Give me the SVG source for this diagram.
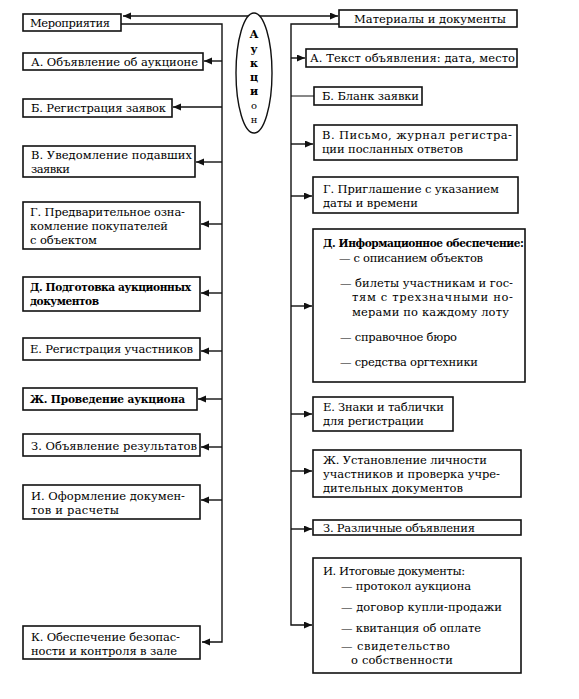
<svg xmlns="http://www.w3.org/2000/svg" width="579" height="699" viewBox="0 0 579 699">
<style>
.box{fill:#fff;stroke:#111;stroke-width:1.6}
.t{font-family:'DejaVu Serif','Liberation Serif',serif;font-size:11.5px;fill:#000}
.b{font-weight:bold;font-size:10.6px}
.c{fill:none;stroke:#111;stroke-width:1.4}
.v{font-family:'DejaVu Serif','Liberation Serif',serif;font-size:11px;fill:#000;text-anchor:middle}
</style>
<defs>
<marker id="ar" markerUnits="userSpaceOnUse" markerWidth="9" markerHeight="8" refX="8" refY="3.5" orient="auto-start-reverse">
<path d="M0,0 L8,3.5 L0,7 z" fill="#111"/>
</marker>
</defs>
<rect width="579" height="699" fill="#fff"/>

<g id="connectors">
<path class="c" d="M123,16 H338" marker-start="url(#ar)" marker-end="url(#ar)"/>
<path class="c" d="M121,24 H222 V642 H202" marker-end="url(#ar)"/>
<path class="c" d="M222,61 H204" marker-end="url(#ar)"/>
<path class="c" d="M222,107 H173" marker-end="url(#ar)"/>
<path class="c" d="M222,162 H196" marker-end="url(#ar)"/>
<path class="c" d="M222,224 H201" marker-end="url(#ar)"/>
<path class="c" d="M222,293 H201" marker-end="url(#ar)"/>
<path class="c" d="M222,351 H201" marker-end="url(#ar)"/>
<path class="c" d="M222,399 H198" marker-end="url(#ar)"/>
<path class="c" d="M222,447 H201" marker-end="url(#ar)"/>
<path class="c" d="M222,500 H201" marker-end="url(#ar)"/>
<path class="c" d="M339,24 H291 V625 H312" marker-end="url(#ar)"/>
<path class="c" d="M291,58 H305" marker-end="url(#ar)"/>
<path class="c" d="M291,96 H314" style="stroke-width:1"/>
<path class="c" d="M291,144 H313" marker-end="url(#ar)"/>
<path class="c" d="M291,196 H312" marker-end="url(#ar)"/>
<path class="c" d="M291,306 H312" marker-end="url(#ar)"/>
<path class="c" d="M291,414 H312" marker-end="url(#ar)"/>
<path class="c" d="M291,471 H312" marker-end="url(#ar)"/>
<path class="c" d="M291,529 H312" marker-end="url(#ar)"/>
</g>

<g id="auction">
<ellipse cx="254" cy="73" rx="18" ry="60" fill="#fff" stroke="#111" stroke-width="1.4"/>
<text class="v" x="254" y="38" font-weight="bold">А</text>
<text class="v" x="254" y="53" font-weight="bold">у</text>
<text class="v" x="254" y="67" font-weight="bold">к</text>
<text class="v" x="254" y="81" font-weight="bold">ц</text>
<text class="v" x="254" y="95" font-weight="bold">и</text>
<text class="v" x="254" y="109" style="font-size:10px">о</text>
<text class="v" x="254" y="123" style="font-size:10px">н</text>
</g>

<g id="events">
<rect class="box" x="23" y="14" width="98" height="17"/>
<text class="t" x="30" y="27" textLength="80">Мероприятия</text>
</g>
<g id="L-A">
<rect class="box" x="23" y="53" width="180" height="17"/>
<text class="t" x="31" y="66" textLength="167">А. Объявление об аукционе</text>
</g>
<g id="L-B">
<rect class="box" x="23" y="99" width="149" height="18"/>
<text class="t" x="31" y="112" textLength="135">Б. Регистрация заявок</text>
</g>
<g id="L-V">
<rect class="box" x="23" y="146" width="172" height="31"/>
<text class="t" x="31" y="159" textLength="161">В. Уведомление подавших</text>
<text class="t" x="31" y="173" textLength="39">заявки</text>
</g>
<g id="L-G">
<rect class="box" x="23" y="202" width="177" height="47"/>
<text class="t" x="30" y="216" textLength="155">Г. Предварительное озна-</text>
<text class="t" x="30" y="230" textLength="138">комление покупателей</text>
<text class="t" x="30" y="244" textLength="67">с объектом</text>
</g>
<g id="L-D">
<rect class="box" x="23" y="277" width="177" height="34"/>
<text class="t b" x="30" y="291" textLength="161">Д. Подготовка аукционных</text>
<text class="t b" x="30" y="305" textLength="69">документов</text>
</g>
<g id="L-E">
<rect class="box" x="23" y="338" width="177" height="22"/>
<text class="t" x="30" y="353" textLength="163">Е. Регистрация участников</text>
</g>
<g id="L-ZH">
<rect class="box" x="23" y="388" width="174" height="22"/>
<text class="t b" x="30" y="403" textLength="155">Ж. Проведение аукциона</text>
</g>
<g id="L-Z">
<rect class="box" x="23" y="434" width="177" height="22"/>
<text class="t" x="31" y="450" textLength="166">З. Объявление результатов</text>
</g>
<g id="L-I">
<rect class="box" x="23" y="485" width="177" height="34"/>
<text class="t" x="31" y="500" textLength="154">И. Оформление докумен-</text>
<text class="t" x="31" y="514" textLength="88">тов и расчеты</text>
</g>
<g id="L-K">
<rect class="box" x="23" y="626" width="177" height="33"/>
<text class="t" x="31" y="641" textLength="149">К. Обеспечение безопас-</text>
<text class="t" x="31" y="655" textLength="146">ности и контроля в зале</text>
</g>

<g id="materials">
<rect class="box" x="339" y="10" width="178" height="17"/>
<text class="t" x="354" y="23" textLength="152">Материалы и документы</text>
</g>
<g id="R-A">
<rect class="box" x="306" y="49" width="211" height="18"/>
<text class="t" x="310" y="62" textLength="205">А. Текст объявления: дата, место</text>
</g>
<g id="R-B">
<rect class="box" x="314" y="87" width="108" height="18"/>
<text class="t" x="322" y="100" textLength="97">Б. Бланк заявки</text>
</g>
<g id="R-V">
<rect class="box" x="314" y="125" width="203" height="35"/>
<text class="t" x="322" y="139" textLength="190">В. Письмо, журнал регистра-</text>
<text class="t" x="322" y="153" textLength="141">ции посланных ответов</text>
</g>
<g id="R-G">
<rect class="box" x="313" y="177" width="205" height="36"/>
<text class="t" x="323" y="193" textLength="176">Г. Приглашение с указанием</text>
<text class="t" x="323" y="207" textLength="95">даты и времени</text>
</g>
<g id="R-D">
<rect class="box" x="313" y="229" width="212" height="153"/>
<text class="t b" x="323" y="247" textLength="201">Д. Информационное обеспечение:</text>
<text class="t" x="339" y="262" textLength="144">— с описанием объектов</text>
<text class="t" x="340" y="287" textLength="173">— билеты участникам и гос-</text>
<text class="t" x="352" y="301" textLength="161">тям с трехзначными но-</text>
<text class="t" x="352" y="316" textLength="157">мерами по каждому лоту</text>
<text class="t" x="340" y="341" textLength="117">— справочное бюро</text>
<text class="t" x="340" y="366" textLength="138">— средства оргтехники</text>
</g>
<g id="R-E">
<rect class="box" x="313" y="397" width="140" height="34"/>
<text class="t" x="323" y="411" textLength="121">Е. Знаки и таблички</text>
<text class="t" x="323" y="425" textLength="101">для регистрации</text>
</g>
<g id="R-ZH">
<rect class="box" x="313" y="450" width="208" height="47"/>
<text class="t" x="323" y="464" textLength="164">Ж. Установление личности</text>
<text class="t" x="323" y="478" textLength="177">участников и проверка учре-</text>
<text class="t" x="323" y="492" textLength="140">дительных документов</text>
</g>
<g id="R-Z">
<rect class="box" x="313" y="520" width="208" height="15"/>
<text class="t" x="323" y="532" textLength="152">З. Различные объявления</text>
</g>
<g id="R-I">
<rect class="box" x="313" y="558" width="208" height="115"/>
<text class="t" x="323" y="575" textLength="142">И. Итоговые документы:</text>
<text class="t" x="341" y="590" textLength="130">— протокол аукциона</text>
<text class="t" x="341" y="611" textLength="161">— договор купли-продажи</text>
<text class="t" x="341" y="632" textLength="140">— квитанция об оплате</text>
<text class="t" x="341" y="650" textLength="109">— свидетельство</text>
<text class="t" x="351" y="664" textLength="102">о собственности</text>
</g>
</svg>
